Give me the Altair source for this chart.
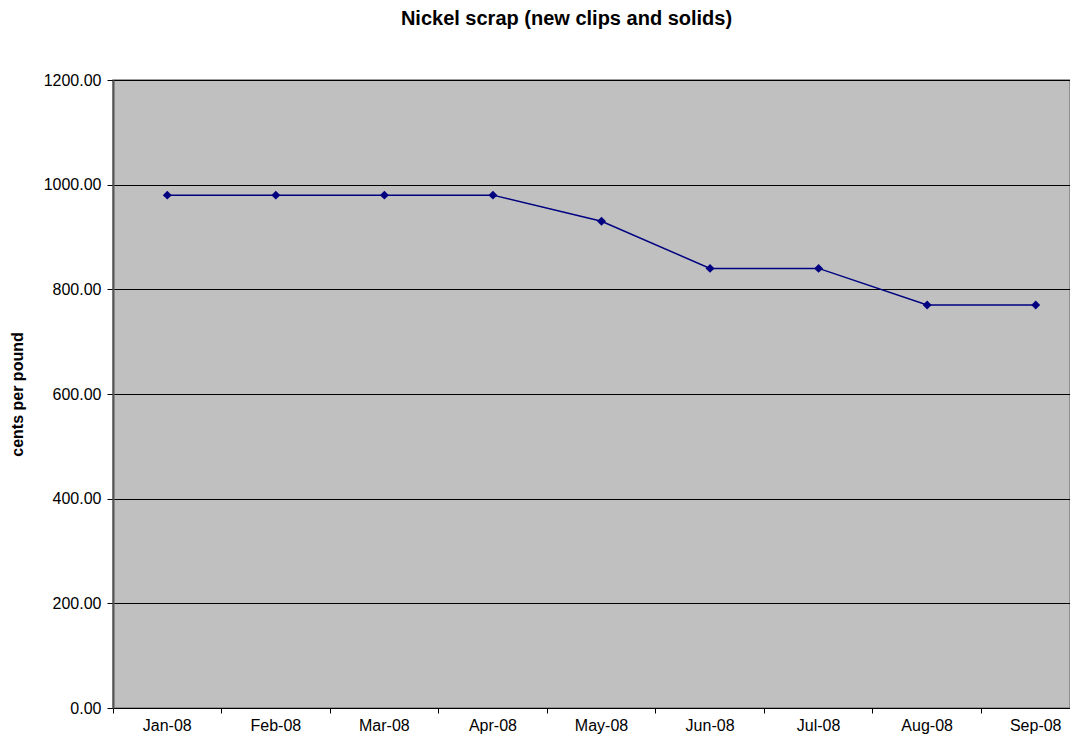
import altair as alt
import pandas as pd

months = ["Jan-08", "Feb-08", "Mar-08", "Apr-08", "May-08", "Jun-08", "Jul-08", "Aug-08", "Sep-08"]
prices = [980, 980, 980, 980, 930, 840, 840, 770, 770]

df = pd.DataFrame({"month": months, "price": prices})

FONT = "Liberation Sans"
xscale = alt.Scale(type="band", paddingInner=0, paddingOuter=0, domain=months, range=[0, 977])
yscale = alt.Scale(domain=[0, 1200], nice=False)

yaxis = alt.Axis(
    values=[0, 200, 400, 600, 800, 1000, 1200],
    format=".2f",
    title="cents per pound",
    titleFont=FONT, titleFontSize=16, titleFontWeight="bold", titleColor="#000",
    titlePadding=18,
    labelFont=FONT, labelFontSize=16, labelColor="#000", labelPadding=6,
    tickColor="#000", tickSize=6,
    domainColor="#555555", domainWidth=2,
    grid=True, gridColor="#000", gridWidth=1,
)

line = alt.Chart(df).mark_line(
    color="#000080", strokeWidth=1.5,
    point=alt.OverlayMarkDef(shape="diamond", filled=True, color="#000080", size=80, opacity=1),
).encode(
    x=alt.X("month:N", scale=xscale, sort=months, bandPosition=0.5,
            axis=alt.Axis(title=None, orient="bottom", labelAngle=0, labelFont=FONT, labelFontSize=16,
                          labelColor="#000", ticks=False, domain=True, domainColor="#000",
                          labelPadding=9, grid=False)),
    y=alt.Y("price:Q", scale=yscale, axis=yaxis),
)

ticks = alt.Chart(df).mark_line(opacity=0).encode(
    x=alt.X("month:N", scale=xscale, sort=months,
            axis=alt.Axis(title=None, orient="bottom", labels=False, ticks=True, tickSize=5,
                          tickColor="#000", bandPosition=0, domain=False, grid=False)),
    y=alt.Y("price:Q", scale=yscale),
)

chart = alt.layer(ticks, line).resolve_axis(x="independent").properties(
    width=957, height=628,
    autosize=alt.AutoSizeParams(type="none"),
    padding={"left": 105, "top": 72, "right": 0, "bottom": 27},
    title=alt.TitleParams(
        "Nickel scrap (new clips and solids)",
        font=FONT, fontSize=20, fontWeight="bold", color="#000",
        anchor="middle", dx=-25, offset=43,
    ),
).configure_view(
    fill="#C0C0C0", stroke="#808080", strokeWidth=1.5,
)

chart.save("out.html", embed_options={"renderer": "svg", "actions": False})
